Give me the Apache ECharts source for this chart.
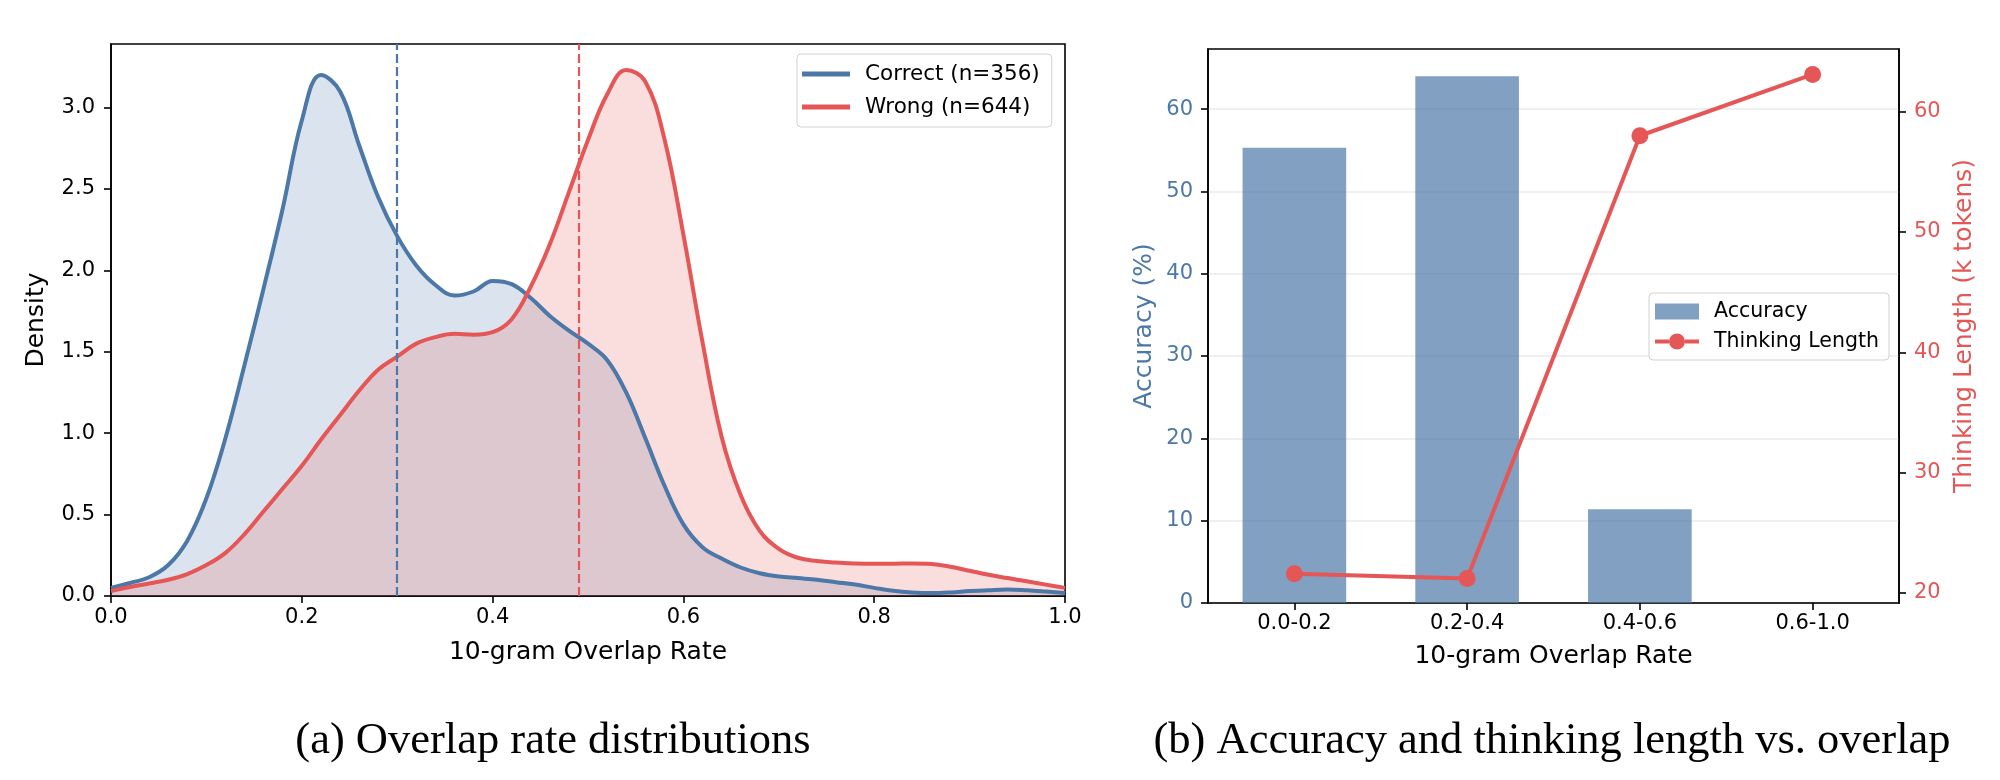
<!DOCTYPE html>
<html>
<head>
<meta charset="utf-8">
<script src="https://cdn.jsdelivr.net/npm/echarts@6/dist/echarts.min.js"></script>
<style>
    html, body { margin: 0; padding: 0; background: #fff; }
    #chart { width: 2000px; height: 780px; }
</style>
</head>
<body>
<div id="chart"></div>
<script>
const overlapGrid = [0.00, 0.02, 0.04, 0.06, 0.08, 0.10, 0.12, 0.14, 0.16, 0.18,
    0.20, 0.22, 0.24, 0.26, 0.28, 0.30, 0.32, 0.34, 0.36, 0.38,
    0.40, 0.42, 0.44, 0.46, 0.48, 0.50, 0.52, 0.54, 0.56, 0.58,
    0.60, 0.62, 0.64, 0.66, 0.68, 0.70, 0.72, 0.74, 0.76, 0.78,
    0.80, 0.82, 0.84, 0.86, 0.88, 0.90, 0.92, 0.94, 0.96, 0.98, 1.00];
const correctDensity = [0.05, 0.08, 0.115, 0.19, 0.34, 0.60, 0.97, 1.42, 1.89, 2.38,
    2.92, 3.20, 3.10, 2.77, 2.45, 2.21, 2.03, 1.91, 1.845, 1.87,
    1.935, 1.915, 1.83, 1.72, 1.63, 1.55, 1.45, 1.25, 0.97, 0.68,
    0.44, 0.30, 0.23, 0.175, 0.14, 0.12, 0.11, 0.10, 0.085, 0.07,
    0.05, 0.032, 0.022, 0.018, 0.022, 0.03, 0.036, 0.04, 0.035, 0.027, 0.018];
const wrongDensity = [0.03, 0.055, 0.077, 0.10, 0.135, 0.19, 0.265, 0.38, 0.52, 0.66,
    0.80, 0.96, 1.11, 1.26, 1.39, 1.47, 1.55, 1.59, 1.61, 1.605,
    1.62, 1.70, 1.90, 2.16, 2.48, 2.80, 3.08, 3.23, 3.16, 2.81,
    2.22, 1.56, 0.98, 0.62, 0.40, 0.29, 0.235, 0.215, 0.205, 0.20,
    0.198, 0.198, 0.20, 0.197, 0.18, 0.155, 0.13, 0.11, 0.09, 0.07, 0.05];
const meanOverlap = [0.298, 0.491];
const densityNames = ['Correct (n=356)', 'Wrong (n=644)'];
const densityTicks = [0, 0.5, 1.0, 1.5, 2.0, 2.5, 3.0];

// (b) accuracy and thinking length per overlap bin
const overlapBins = ['0.0-0.2', '0.2-0.4', '0.4-0.6', '0.6-1.0'];
const accuracy = [55.3, 64.0, 11.4, 0];
const thinkingLength = [21.6, 21.2, 58.0, 63.1];
const accuracyTicks = [0, 10, 20, 30, 40, 50, 60];
const lengthTicks = [20, 30, 40, 50, 60];

const BLUE = '#4C78A8';
const RED = '#E45756';
const FONT = 'DejaVu Sans';
// legend handle: thick line with a dot in the middle
const LINE_DOT_ICON = 'path://M0,6 L14,6 L14,10 L0,10 Z M30,6 L44,6 L44,10 L30,10 Z M14,8 A8,8 0 1,1 30,8 A8,8 0 1,1 14,8 Z';

function pairs(xs, ys) {
    return xs.map((x, i) => [x, ys[i]]);
}

function axisLine() {
    return { show: true, onZero: false, lineStyle: { color: '#000', width: 1.6 } };
}

function tick(custom) {
    const t = { show: true, length: 7, lineStyle: { color: '#000', width: 1.6 } };
    if (custom) t.customValues = custom;
    return t;
}

function meanLine(x, color) {
    return {
        silent: true,
        symbol: ['none', 'none'],
        label: { show: false },
        lineStyle: { color: color, type: [9, 4], width: 2.2 },
        emphasis: { disabled: true },
        data: [{ xAxis: x }]
    };
}

const chart = echarts.init(document.getElementById('chart'));

chart.setOption({
    animation: false,
    textStyle: { fontFamily: FONT },
    title: [{
        text: '(a) Overlap rate distributions',
        left: 553, top: 719, textAlign: 'center', padding: 0,
        textStyle: { fontFamily: 'Liberation Serif', fontSize: 44.5, fontWeight: 'normal', color: '#000' }
    }, {
        text: '(b) Accuracy and thinking length vs. overlap',
        left: 1552, top: 719, textAlign: 'center', padding: 0,
        textStyle: { fontFamily: 'Liberation Serif', fontSize: 44.5, fontWeight: 'normal', color: '#000' }
    }],
    grid: [
        { left: 111, top: 44, width: 954, height: 552, show: true, borderColor: '#000', borderWidth: 1.6 },
        { left: 1208, top: 49, width: 691, height: 554, show: true, borderColor: '#000', borderWidth: 1.6 }
    ],
    legend: [{
        data: densityNames.map(n => ({ name: n, icon: 'rect' })),
        left: 797, top: 54,
        orient: 'vertical',
        itemWidth: 48, itemHeight: 5, itemGap: 11,
        padding: [9, 12, 9, 5],
        borderColor: '#d0d0d0', borderWidth: 1, borderRadius: 4,
        backgroundColor: 'rgba(255,255,255,0.8)',
        textStyle: { fontSize: 21.5, color: '#000', padding: [0, 0, 0, 10] }
    }, {
        data: [{ name: 'Accuracy', icon: 'rect' }, { name: 'Thinking Length', icon: LINE_DOT_ICON }],
        left: 1649, top: 293,
        orient: 'vertical',
        itemWidth: 44, itemHeight: 16, itemGap: 9,
        padding: [8, 10, 8, 6],
        borderColor: '#d0d0d0', borderWidth: 1, borderRadius: 4,
        backgroundColor: 'rgba(255,255,255,0.8)',
        textStyle: { fontSize: 20.5, color: '#000', padding: [0, 0, 0, 10] }
    }],
    xAxis: [{
        type: 'value', gridIndex: 0,
        min: 0, max: 1, interval: 0.2,
        name: '10-gram Overlap Rate', nameLocation: 'middle', nameGap: 44,
        nameTextStyle: { fontSize: 25, color: '#000' },
        axisLine: axisLine(), axisTick: tick(),
        axisLabel: { fontSize: 21, color: '#000', margin: 11, formatter: v => v.toFixed(1) },
        splitLine: { show: false }
    }, {
        type: 'category', gridIndex: 1,
        data: overlapBins,
        name: '10-gram Overlap Rate', nameLocation: 'middle', nameGap: 41,
        nameTextStyle: { fontSize: 25, color: '#000' },
        axisLine: axisLine(),
        axisTick: Object.assign(tick(), { alignWithLabel: true }),
        axisLabel: { fontSize: 21, color: '#000', margin: 10 },
        splitLine: { show: false }
    }],
    yAxis: [{
        type: 'value', gridIndex: 0,
        min: 0, max: 3.39,
        name: 'Density', nameLocation: 'middle', nameGap: 62,
        nameTextStyle: { fontSize: 25, color: '#000' },
        axisLine: axisLine(), axisTick: tick(densityTicks),
        axisLabel: { customValues: densityTicks, fontSize: 21, color: '#000', margin: 16, formatter: v => v.toFixed(1) },
        splitLine: { show: false }
    }, {
        type: 'value', gridIndex: 1, position: 'left',
        min: 0, max: 67.3,
        name: 'Accuracy (%)', nameLocation: 'middle', nameGap: 51,
        nameTextStyle: { fontSize: 25, color: BLUE },
        axisLine: axisLine(), axisTick: tick(accuracyTicks),
        axisLabel: { customValues: accuracyTicks, fontSize: 21, color: BLUE, margin: 15 },
        splitLine: { show: true, lineStyle: { color: '#ebebeb', width: 1.5 } }
    }, {
        type: 'value', gridIndex: 1, position: 'right',
        min: 19.17, max: 65.21,
        name: 'Thinking Length (k tokens)', nameLocation: 'middle', nameGap: 53,
        nameTextStyle: { fontSize: 25, color: RED },
        axisLine: axisLine(), axisTick: tick(lengthTicks),
        axisLabel: { customValues: lengthTicks, fontSize: 21, color: RED, margin: 15 },
        splitLine: { show: false }
    }],
    series: [{
        name: 'Correct fill', type: 'line', xAxisIndex: 0, yAxisIndex: 0,
        data: pairs(overlapGrid, correctDensity),
        smooth: 0.4, symbol: 'none', silent: true, z: 1,
        lineStyle: { width: 0 },
        areaStyle: { color: BLUE, opacity: 0.2 }
    }, {
        name: 'Wrong fill', type: 'line', xAxisIndex: 0, yAxisIndex: 0,
        data: pairs(overlapGrid, wrongDensity),
        smooth: 0.4, symbol: 'none', silent: true, z: 1,
        lineStyle: { width: 0 },
        areaStyle: { color: RED, opacity: 0.2 }
    }, {
        name: densityNames[0], type: 'line', xAxisIndex: 0, yAxisIndex: 0,
        data: pairs(overlapGrid, correctDensity),
        smooth: 0.4, symbol: 'none', z: 3,
        itemStyle: { color: BLUE },
        lineStyle: { color: BLUE, width: 4 },
        markLine: meanLine(meanOverlap[0], BLUE)
    }, {
        name: densityNames[1], type: 'line', xAxisIndex: 0, yAxisIndex: 0,
        data: pairs(overlapGrid, wrongDensity),
        smooth: 0.4, symbol: 'none', z: 3,
        itemStyle: { color: RED },
        lineStyle: { color: RED, width: 4 },
        markLine: meanLine(meanOverlap[1], RED)
    }, {
        name: 'Accuracy', type: 'bar', xAxisIndex: 1, yAxisIndex: 1,
        data: accuracy,
        barWidth: '60%',
        itemStyle: { color: 'rgba(76,120,168,0.7)' }
    }, {
        name: 'Thinking Length', type: 'line', xAxisIndex: 1, yAxisIndex: 2,
        data: thinkingLength,
        symbol: 'circle', symbolSize: 17, z: 4,
        itemStyle: { color: RED },
        lineStyle: { color: RED, width: 4 }
    }]
});
</script>
</body>
</html>
